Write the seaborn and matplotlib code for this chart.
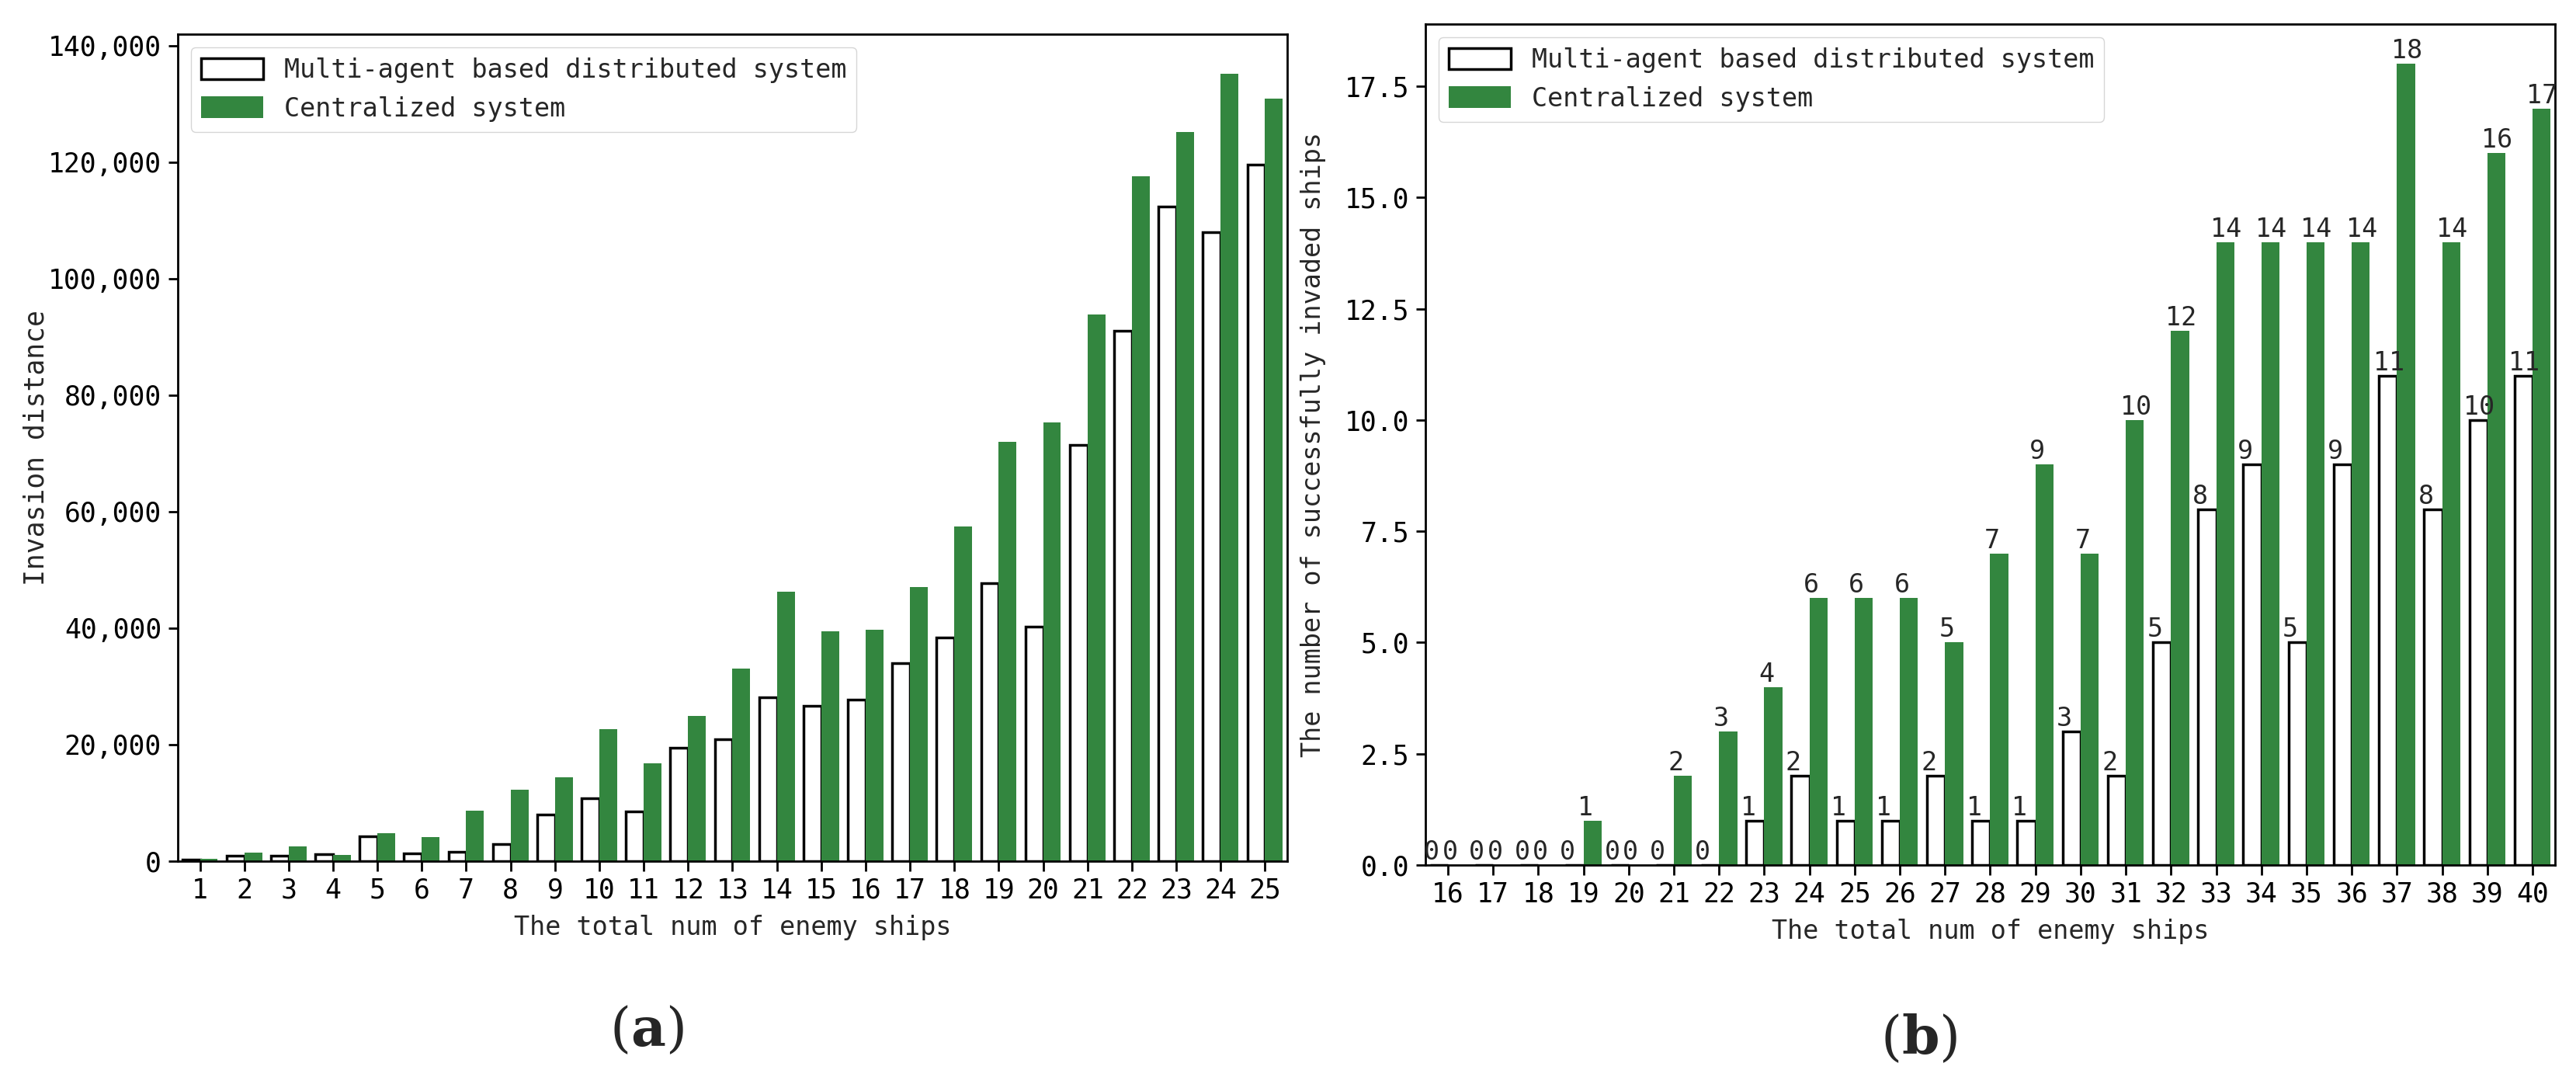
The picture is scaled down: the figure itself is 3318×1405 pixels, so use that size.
import pandas as pd
import matplotlib
matplotlib.use('Agg')
import matplotlib.pyplot as plt
import seaborn as sns
from matplotlib.ticker import FuncFormatter, MultipleLocator

sns.set_style('ticks')
plt.rcParams['font.family'] = ['DejaVu Sans Mono', 'DejaVu Sans']
plt.rcParams['mathtext.fontset'] = 'dejavuserif'

# data
systems = ['Multi-agent based distributed system', 'Centralized system']

ships_a = list(range(1, 26))
dist_multi = [300, 940, 940, 1250, 4240, 1340, 1560, 2900, 8030, 10750,
              8520, 19450, 20960, 28100, 26700, 27700, 34000, 38400, 47700, 40300,
              71400, 91100, 112300, 108000, 119500]
dist_central = [350, 1470, 2590, 1120, 4820, 4150, 8700, 12200, 14450, 22700,
                16800, 24900, 33050, 46200, 39500, 39700, 47100, 57500, 72000, 75300,
                93900, 117600, 125100, 135200, 130900]

ships_b = list(range(16, 41))
invaded_multi = [0, 0, 0, 0, 0, 0, 0, 1, 2, 1, 1, 2, 1, 1, 3, 2, 5, 8, 9, 5, 9, 11, 8, 10, 11]
invaded_central = [0, 0, 0, 1, 0, 2, 3, 4, 6, 6, 6, 5, 7, 9, 7, 10, 12, 14, 14, 14, 14, 18, 14, 16, 17]

green = '#33863f'
fs = 24

fig = plt.figure(figsize=(33.18, 14.05), dpi=100)
ax1 = fig.add_axes([0.069, 0.2107, 0.4307, 0.758])
ax2 = fig.add_axes([0.5533, 0.2071, 0.4386, 0.7709])


def draw(ax, xs, multi, central):
    df = pd.DataFrame({'n': xs + xs,
                       'value': multi + central,
                       'system': [systems[0]] * len(xs) + [systems[1]] * len(xs)})
    sns.barplot(data=df, x='n', y='value', hue='system', hue_order=systems,
                palette=['white', green], saturation=1, errorbar=None, ax=ax)
    for bar in ax.containers[0]:
        bar.set_edgecolor('black')
        bar.set_linewidth(2.5)
    for bar in ax.containers[1]:
        bar.set_edgecolor('none')
        bar.set_linewidth(0)
    ax.legend(handles=list(ax.containers), labels=systems, loc='upper left',
              fontsize=fs, handlelength=2.4, handleheight=0.9)
    for s in ax.spines.values():
        s.set_visible(True)
        s.set_color('black')
        s.set_linewidth(2)
    ax.tick_params(length=9, width=2, labelsize=25, colors='black', pad=6)
    ax.set_xlabel('The total num of enemy ships', fontsize=fs, labelpad=10)


draw(ax1, ships_a, dist_multi, dist_central)
ax1.set_ylabel('Invasion distance', fontsize=25)
ax1.yaxis.set_label_coords(-0.116, 0.5)
ax1.yaxis.set_major_formatter(FuncFormatter(lambda v, p: f'{v:,.0f}'))

draw(ax2, ships_b, invaded_multi, invaded_central)
ax2.set_ylabel('The number of successfully invaded ships', fontsize=fs)
ax2.yaxis.set_label_coords(-0.088, 0.5)
ax2.yaxis.set_major_locator(MultipleLocator(2.5))
ax2.yaxis.set_major_formatter(FuncFormatter(lambda v, p: f'{v:.1f}'))

# value labels on top of every bar in (b)
for cont in ax2.containers:
    for bar in cont:
        h = bar.get_height()
        ax2.text(bar.get_x() - 0.13, h, f'{h:.0f}', ha='left', va='bottom', fontsize=fs)

fig.text(0.251, 0.0555, r'$(\mathbf{a})$', ha='center', va='center', fontsize=50)
fig.text(0.745, 0.0477, r'$(\mathbf{b})$', ha='center', va='center', fontsize=50)

fig.savefig('out.png', dpi=100)
